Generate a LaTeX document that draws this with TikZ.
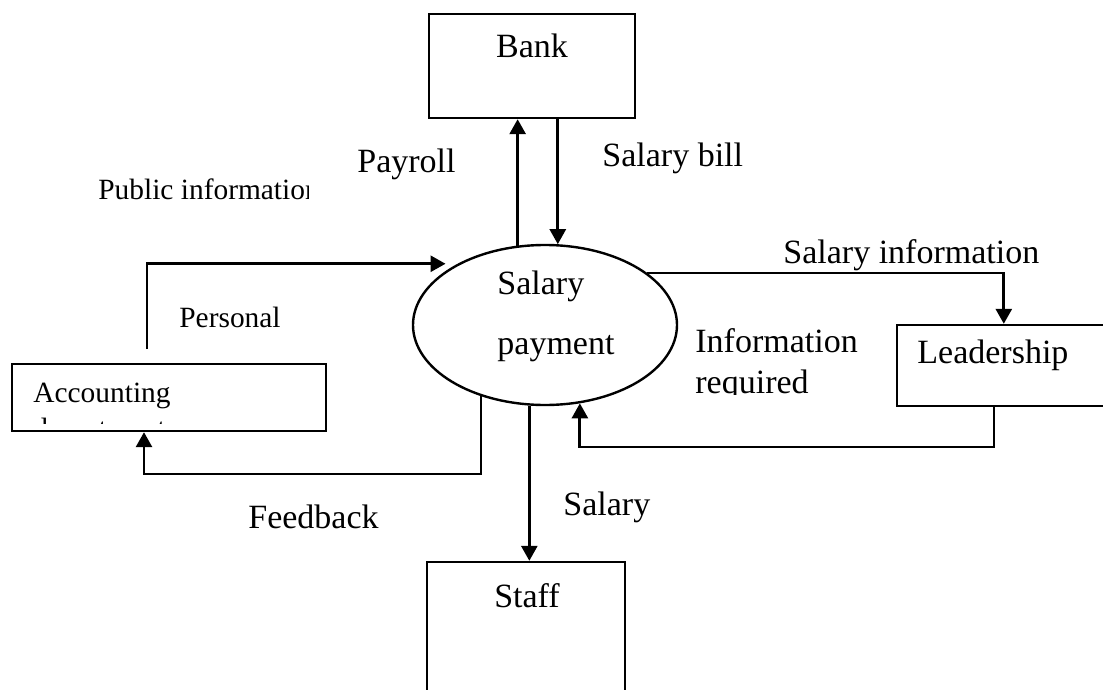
\documentclass[tikz,border=0pt]{standalone}
\usepackage{fontspec}
\setmainfont{Liberation Serif}
\usetikzlibrary{arrows.meta,shapes.geometric}
\begin{document}
\begin{tikzpicture}[x=0.5pt,y=-0.5pt,
	box/.style={draw,line width=1.2pt,inner sep=0pt},
	flow/.style={line width=1.4pt,-{Triangle[length=7.5pt,width=8pt]}},
	big/.style={font=\fontsize{17pt}{20pt}\selectfont,inner sep=0pt},
	small/.style={font=\fontsize{14.7pt}{17.5pt}\selectfont,inner sep=0pt,align=left}]
		\useasboundingbox (0,0) rectangle (1103,690);
		\clip (0,0) rectangle (1103,690);
		\node[box,minimum width=103pt,minimum height=52pt] (bank) at (532,66) {};
		\node[box,minimum width=99pt,minimum height=79pt] (staff) at (526,641) {};
		\node[box,minimum width=157pt,minimum height=33.5pt] (acc) at (169,397.5) {};
		\node[box,minimum width=111.5pt,minimum height=40.5pt] (lead) at (1008.5,365.5) {};
		\node[box,ellipse,minimum width=132pt,minimum height=80pt] (pay) at (545,325) {};
		\node[big,anchor=base] (banktxt) at (532,58) {Bank};
		\node[big,anchor=base] (stafftxt) at (527,607) {Staff};
		\node[big,anchor=base west] (leadtxt) at (917,363) {Leadership};
		\node[big,anchor=base west] (paytxt1) at (497,294) {Salary};
		\node[big,anchor=base west] (paytxt2) at (497,354) {payment};
		\node[big,anchor=base west] (payroll) at (357,172) {Payroll};
		\node[big,anchor=base west] (bill) at (602,167) {Salary bill};
		\node[big,anchor=base west] (salinfo) at (783,263) {Salary information};
		\node[big,anchor=base west] (infotxt) at (695,352) {Information};
		\node[big,anchor=base west] (feedback) at (248,528) {Feedback};
		\node[big,anchor=base west] (salary) at (563,515) {Salary};
		\node[small,anchor=base west] (personal) at (179,327) {Personal};
		\begin{scope}
			\clip (90,170) rectangle (308,215);
			\node[small,anchor=base west] (public) at (98,199) {Public information};
		\end{scope}
		\begin{scope}
			\clip (20,370) rectangle (320,423);
			\node[small,anchor=base west] (acctxt) at (33,402) {Accounting};
			\node[small,anchor=base west] (acctxt2) at (33,438) {department};
		\end{scope}
		\begin{scope}
			\clip (690,360) rectangle (880,394);
			\node[big,anchor=base west] (reqtxt) at (695,393) {required};
		\end{scope}
		\coordinate (pers) at (147,349);
		\coordinate (fbk) at (144,474);
		\coordinate (inf) at (994,447);
		\draw[flow] (pay.109) -- (pay.109 |- bank.south);
		\draw[flow] (pay.81 |- bank.south) -- (pay.81);
		\draw[flow] (pay.-101) -- (pay.-101 |- staff.north);
		\draw[flow,shorten >=6pt] (pers) |- (pay.145);
		\draw[flow] (pay.-132) |- (fbk) -- (fbk |- acc.south);
		\draw[flow] (pay.27) -| ([xshift=54pt]lead.north west);
		\draw[flow] (inf |- lead.south) -- (inf) -| (pay.-66);
	\end{tikzpicture}
\end{document}
